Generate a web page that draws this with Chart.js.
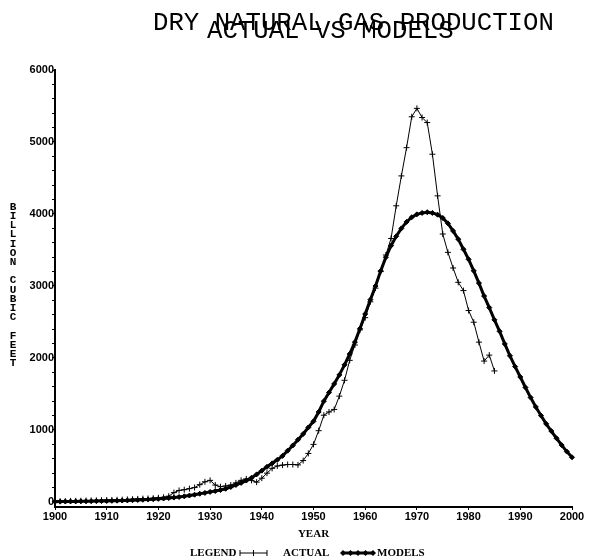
<!DOCTYPE html>
<html>
<head>
<meta charset="utf-8">
<script src="https://cdn.jsdelivr.net/npm/chart.js@4.4.1/dist/chart.umd.min.js"></script>
<style>
  html, body { margin: 0; padding: 0; background: #fff; }
  #wrap { width: 590px; height: 560px; }
</style>
</head>
<body>
<div id="wrap"><canvas id="myChart" width="590" height="560"></canvas></div>
<script>
const titleLines = ['DRY NATURAL GAS PRODUCTION', 'ACTUAL VS MODELS'];
const yAxisTitle = 'BILLION CUBIC FEET';
const xAxisTitle = 'YEAR';
const legendLabels = ['LEGEND', 'ACTUAL', 'MODELS'];

// one value per year, starting in 1900
const firstYear = 1900;
const actualValues = [
    10, 11, 12, 14, 15, 17, 19, 21, 22, 24,
    26, 28, 30, 32, 35, 38, 42, 46, 48, 52,
    58, 65, 80, 130, 160, 170, 185, 200, 240, 280,
    300, 235, 212, 222, 235, 265, 300, 320, 300, 275,
    330, 400, 467, 500, 512, 520, 520, 515, 575, 674,
    800, 990, 1205, 1250, 1285, 1470, 1690, 1967, 2180, 2390,
    2560, 2780, 2970, 3200, 3430, 3660, 4114, 4529, 4921, 5350,
    5467, 5340, 5270, 4830, 4252, 3722, 3467, 3250, 3051, 2936,
    2659, 2497, 2220, 1957, 2040, 1820
];
const modelValues = [
    4, 5, 6, 7, 8, 9, 10, 11, 12, 13,
    14, 16, 18, 20, 22, 25, 28, 31, 35, 39,
    43, 48, 54, 61, 69, 78, 89, 101, 114, 126,
    140, 152, 165, 183, 208, 236, 265, 297, 335, 383,
    435, 488, 536, 585, 640, 712, 785, 865, 945, 1035,
    1120, 1250, 1400, 1520, 1640, 1765, 1905, 2055, 2220, 2410,
    2610, 2810, 3000, 3210, 3400, 3560, 3690, 3800, 3890, 3955,
    3995, 4015, 4025, 4015, 3990, 3945, 3870, 3765, 3650, 3510,
    3370, 3210, 3040, 2860, 2700, 2530, 2370, 2195, 2030, 1880,
    1736, 1590, 1450, 1320, 1200, 1085, 985, 885, 790, 700,
    620
];
const xTickLabels = [1900, 1910, 1920, 1930, 1940, 1950, 1960, 1970, 1980, 1990, 2000];
const yTickLabels = [0, 1000, 2000, 3000, 4000, 5000, 6000];
const yMinorStep = 200;

const toPoints = values => values.map((v, i) => ({ x: firstYear + i, y: v }));

// titre, axe vertical empile et legende
const decorPlugin = {
    id: 'decor',
    afterDraw(chart) {
        const ctx = chart.ctx;
        ctx.save();
        ctx.fillStyle = '#000';
        ctx.strokeStyle = '#000';

        ctx.font = '25.7px "Liberation Mono"';
        ctx.textAlign = 'left';
        ctx.textBaseline = 'alphabetic';
        ctx.fillText(titleLines[0], 153, 30);
        ctx.fillText(titleLines[1], 207, 37.5);

        ctx.font = 'bold 11px "Liberation Mono"';
        ctx.textAlign = 'center';
        ctx.textBaseline = 'middle';
        [...yAxisTitle].forEach((ch, i) => ctx.fillText(ch, 13, 207 + i * 9.2));

        const ly = 553;
        ctx.font = 'bold 11px "Liberation Serif"';
        ctx.textAlign = 'left';
        ctx.fillText(legendLabels[0], 190, ly);
        ctx.fillText(legendLabels[1], 283, ly);
        ctx.fillText(legendLabels[2], 377, ly);

        // actual sample
        ctx.lineWidth = 1;
        ctx.beginPath();
        ctx.moveTo(240, ly);
        ctx.lineTo(267, ly);
        [240, 253.5, 267].forEach(x => {
            ctx.moveTo(x, ly - 3);
            ctx.lineTo(x, ly + 3);
        });
        ctx.stroke();

        // models sample
        ctx.lineWidth = 3;
        ctx.beginPath();
        ctx.moveTo(343, ly);
        ctx.lineTo(373, ly);
        ctx.stroke();
        [343, 350.5, 358, 365.5, 373].forEach(x => {
            ctx.beginPath();
            ctx.moveTo(x, ly - 3);
            ctx.lineTo(x + 3, ly);
            ctx.lineTo(x, ly + 3);
            ctx.lineTo(x - 3, ly);
            ctx.closePath();
            ctx.fill();
        });
        ctx.restore();
    }
};

const ctx = document.getElementById('myChart').getContext('2d');
new Chart(ctx, {
    type: 'line',
    data: {
        datasets: [
            {
                label: 'MODELS',
                data: toPoints(modelValues),
                borderColor: '#000',
                backgroundColor: '#000',
                borderWidth: 3,
                pointStyle: 'rectRot',
                pointRadius: 2.5,
                pointBorderWidth: 1,
                tension: 0,
                fill: false,
                clip: false
            },
            {
                label: 'ACTUAL',
                data: toPoints(actualValues),
                borderColor: '#000',
                backgroundColor: '#000',
                borderWidth: 1,
                pointStyle: 'cross',
                pointRadius: 3,
                pointBorderWidth: 1,
                tension: 0,
                fill: false,
                clip: false
            }
        ]
    },
    options: {
        responsive: false,
        animation: false,
        devicePixelRatio: 1,
        layout: {
            padding: { left: 0, right: 18, top: 70, bottom: 0 }
        },
        plugins: {
            legend: { display: false },
            title: { display: false },
            tooltip: { enabled: false }
        },
        scales: {
            x: {
                type: 'linear',
                min: 1900,
                max: 2000,
                afterBuildTicks: scale => {
                    scale.ticks = xTickLabels.map(v => ({ value: v }));
                },
                afterFit: scale => { scale.height = 53; },
                ticks: {
                    autoSkip: false,
                    maxRotation: 0,
                    padding: 0,
                    color: '#000',
                    font: { family: 'Liberation Sans', size: 11, weight: 'bold' },
                    callback: value => String(value)
                },
                grid: {
                    drawOnChartArea: false,
                    drawTicks: true,
                    tickLength: 3,
                    color: '#000'
                },
                border: { display: true, color: '#000', width: 2 },
                title: {
                    display: true,
                    text: xAxisTitle,
                    color: '#000',
                    font: { family: 'Liberation Serif', size: 11, weight: 'bold' },
                    padding: { top: 0, bottom: 19 }
                }
            },
            y: {
                type: 'linear',
                min: -70,
                max: 6000,
                afterBuildTicks: scale => {
                    const t = [];
                    for (let v = 0; v <= 6000; v += yMinorStep) t.push({ value: v });
                    scale.ticks = t;
                },
                afterFit: scale => { scale.width = 55; },
                ticks: {
                    autoSkip: false,
                    padding: -2,
                    color: '#000',
                    font: { family: 'Liberation Sans', size: 11, weight: 'bold' },
                    callback: value => yTickLabels.includes(value) ? String(value) : ''
                },
                grid: {
                    drawOnChartArea: false,
                    drawTicks: true,
                    tickLength: 3,
                    color: '#000'
                },
                border: { display: true, color: '#000', width: 2 }
            }
        }
    },
    plugins: [decorPlugin]
});
</script>
</body>
</html>
